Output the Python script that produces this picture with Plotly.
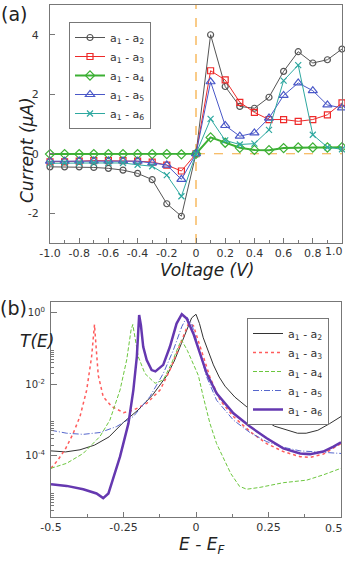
import plotly.graph_objects as go

# ---- panel (a): I-V curves ----
volt = [-1.0, -0.9, -0.8, -0.7, -0.6, -0.5, -0.4, -0.3, -0.2, -0.1, 0.0,
        0.1, 0.2, 0.3, 0.4, 0.5, 0.6, 0.7, 0.8, 0.9, 1.0]
cur_a2 = [-0.44, -0.44, -0.44, -0.46, -0.49, -0.55, -0.66, -0.87, -1.68, -2.10, 0.0,
          4.00, 2.26, 1.59, 1.53, 1.90, 2.77, 3.43, 3.05, 3.16, 3.52]
cur_a3 = [-0.27, -0.27, -0.25, -0.23, -0.23, -0.23, -0.25, -0.28, -0.38, -0.58, 0.0,
          2.79, 2.48, 1.73, 1.39, 1.15, 1.15, 1.09, 1.15, 1.31, 1.71]
cur_a4 = [-0.01, -0.01, -0.01, -0.01, -0.01, -0.01, -0.01, -0.01, -0.01, -0.02, 0.0,
          0.55, 0.37, 0.20, 0.13, 0.12, 0.19, 0.21, 0.21, 0.21, 0.22]
cur_a5 = [-0.25, -0.25, -0.24, -0.24, -0.24, -0.24, -0.25, -0.31, -0.38, -0.86, 0.0,
          2.42, 0.95, 0.59, 0.70, 1.20, 1.96, 2.38, 2.12, 1.64, 1.54]
cur_a6 = [-0.32, -0.31, -0.31, -0.31, -0.31, -0.31, -0.37, -0.42, -0.72, -1.43, 0.0,
          1.17, 0.45, 0.31, 0.34, 0.80, 2.46, 2.98, 0.64, 0.22, 0.15]

# last label is drawn separately so it is not cut at the page edge
volt_ticks = [-1.0, -0.8, -0.6, -0.4, -0.2, 0, 0.2, 0.4, 0.6, 0.8, 1.0]
volt_ticktext = ["-1.0", "-0.8", "-0.6", "-0.4", "-0.2", "0", "0.2", "0.4", "0.6", "0.8", ""]
volt_lastlabel = "1.0"
cur_ticks = [-2, 0, 2, 4]
cur_ticktext = ["-2", "0", "2", "4"]

# ---- panel (b): transmission ----
e_a2 = [-0.5, -0.45, -0.4, -0.35, -0.3, -0.25, -0.2, -0.15, -0.1, -0.075, -0.05, -0.03,
        -0.015, 0.0, 0.012, 0.025, 0.04, 0.06, 0.08, 0.1, 0.134, 0.2, 0.27, 0.35, 0.38,
        0.42, 0.46, 0.5]
t_a2 = [1.38e-4, 1.29e-4, 1.48e-4, 2.0e-4, 3.39e-4, 8.7e-4, 1.91e-3, 5.0e-3, 1.78e-2,
        4.47e-2, 0.141, 0.38, 0.72, 0.91, 0.50, 0.20, 8.9e-2, 3.5e-2, 1.6e-2, 8.9e-3,
        4.4e-3, 1.6e-3, 6.8e-4, 4.3e-4, 4.3e-4, 5.2e-4, 7.9e-4, 1.26e-3]

e_a3 = [-0.5, -0.475, -0.45, -0.425, -0.4, -0.377, -0.36, -0.354, -0.35, -0.345, -0.337,
        -0.32, -0.291, -0.25, -0.216, -0.17, -0.124, -0.09, -0.055, -0.026, -0.009, 0.014,
        0.048, 0.083, 0.129, 0.186, 0.244, 0.301, 0.359, 0.393, 0.439, 0.5]
t_a3 = [4.5e-5, 7.9e-5, 1.58e-4, 4.0e-4, 1.26e-3, 6.9e-3, 5.9e-2, 0.25, 0.47, 0.126,
        1.78e-2, 4.5e-3, 2.4e-3, 1.62e-3, 1.9e-3, 2.95e-3, 6.9e-3, 2.5e-2, 0.138, 0.50,
        0.44, 0.112, 1.6e-2, 3.6e-3, 1.26e-3, 4.8e-4, 2.2e-4, 1.32e-4, 9.5e-5, 9.1e-5,
        1.12e-4, 2.2e-4]

e_a4 = [-0.5, -0.446, -0.389, -0.331, -0.297, -0.262, -0.239, -0.224, -0.218, -0.213,
        -0.199, -0.176, -0.141, -0.113, -0.084, -0.061, -0.05, -0.03, -0.009, 0.008, 0.025,
        0.048, 0.071, 0.094, 0.12, 0.15, 0.175, 0.221, 0.301, 0.382, 0.439, 0.5]
t_a4 = [4.5e-5, 6.2e-5, 1.17e-4, 3.5e-4, 1.0e-3, 6.9e-3, 4.8e-2, 0.33, 0.47, 0.26,
        5.9e-2, 2.0e-2, 1.07e-2, 1.32e-2, 3.9e-2, 0.112, 0.174, 8.9e-2, 3.5e-2, 1.78e-2,
        4.5e-3, 8.1e-4, 2.2e-4, 8.9e-5, 3.2e-5, 1.41e-5, 1.17e-5, 1.32e-5, 1.78e-5, 2.1e-5,
        2.95e-5, 4.5e-5]

e_a5 = [-0.5, -0.446, -0.389, -0.331, -0.274, -0.216, -0.159, -0.113, -0.078, -0.049,
        -0.032, -0.015, 0.008, 0.037, 0.071, 0.129, 0.186, 0.244, 0.301, 0.359, 0.416, 0.5]
t_a5 = [5.2e-4, 4.3e-4, 4.0e-4, 4.5e-4, 6.6e-4, 1.26e-3, 4.5e-3, 2.0e-2, 9.1e-2, 0.41,
        0.76, 0.50, 0.112, 1.6e-2, 3.6e-3, 1.0e-3, 4.5e-4, 2.5e-4, 1.74e-4, 1.38e-4,
        1.29e-4, 1.17e-4]

e_a6 = [-0.5, -0.446, -0.389, -0.343, -0.32, -0.302, -0.291, -0.262, -0.233, -0.216,
        -0.204, -0.199, -0.196, -0.19, -0.182, -0.17, -0.153, -0.14, -0.113, -0.09, -0.067,
        -0.049, -0.032, -0.009, 0.014, 0.037, 0.071, 0.129, 0.186, 0.244, 0.301, 0.359,
        0.393, 0.439, 0.474, 0.5]
t_a6 = [1.62e-5, 1.45e-5, 1.17e-5, 8.9e-6, 6.6e-6, 8.9e-6, 1.7e-5, 9.5e-5, 8.1e-4,
        6.9e-3, 5.9e-2, 0.32, 0.87, 0.45, 0.112, 4.8e-2, 2.5e-2, 2.3e-2, 3.5e-2, 0.112,
        0.50, 0.91, 0.69, 0.26, 7.4e-2, 2.0e-2, 5.6e-3, 1.55e-3, 6.6e-4, 3.1e-4, 1.62e-4,
        1.17e-4, 1.12e-4, 1.32e-4, 1.82e-4, 2.4e-4]

e_ticks = [-0.5, -0.25, 0, 0.25, 0.5]
e_ticktext = ["-0.5", "-0.25", "0", "0.25", ""]
e_lastlabel = "0.5"
t_ticks = [1, 1e-2, 1e-4]
t_ticktext = ["10<sup>0</sup>", "10<sup>-2</sup>", "10<sup>-4</sup>"]
t_minor = [k * 10.0 ** p for p in (-2, -4, -6) for k in range(2, 10)]

names = ["a<sub>1</sub> - a<sub>2</sub>", "a<sub>1</sub> - a<sub>3</sub>",
         "a<sub>1</sub> - a<sub>4</sub>", "a<sub>1</sub> - a<sub>5</sub>",
         "a<sub>1</sub> - a<sub>6</sub>"]

W, H = 345, 563
def px(x):
    return x / W
def py(y):
    return 1 - y / H

fig = go.Figure()

iv_style = [
    (cur_a2, "#555555", "circle-open", 6, 1),
    (cur_a3, "#ee2a2a", "square-open", 6, 1),
    (cur_a4, "#3cb034", "diamond-open", 7, 2),
    (cur_a5, "#4a58c8", "triangle-up-open", 8, 1),
    (cur_a6, "#2ea8a0", "x-thin-open", 6, 1),
]
for (ys, col, sym, sz, lw), nm in zip(iv_style, names):
    fig.add_trace(go.Scatter(x=volt, y=ys, name=nm, mode="lines+markers",
                             line=dict(color=col, width=lw),
                             marker=dict(symbol=sym, size=sz, color=col,
                                         line=dict(color=col, width=1.2)),
                             cliponaxis=False, xaxis="x", yaxis="y", legend="legend"))

te_style = [
    (e_a2, t_a2, "#333333", "solid", 1),
    (e_a3, t_a3, "#ff5c5c", "dot", 1.5),
    (e_a4, t_a4, "#6cc63e", "4px,2px", 1),
    (e_a5, t_a5, "#5566cc", "6px,2px,1px,2px", 1),
    (e_a6, t_a6, "#6538b0", "solid", 2.5),
]
for (xs, ys, col, dash, lw), nm in zip(te_style, names):
    fig.add_trace(go.Scatter(x=xs, y=ys, name=nm, mode="lines",
                             line=dict(color=col, width=lw, dash=dash),
                             xaxis="x2", yaxis="y2", legend="legend2"))

axis_common = dict(showline=True, mirror=True, linecolor="#777777", linewidth=1,
                   showgrid=False, zeroline=False, ticks="inside", tickcolor="#777777",
                   tickfont=dict(size=11, color="#333333"), automargin=False)

fig.update_layout(
    width=W, height=H, autosize=False, margin=dict(l=0, r=0, t=0, b=0, autoexpand=False),
    paper_bgcolor="white", plot_bgcolor="white",
    font=dict(family="DejaVu Sans", color="#222222"),
    xaxis=dict(axis_common, domain=[px(50), px(342)], range=[-1, 1], anchor="y",
               tickmode="array", tickvals=volt_ticks, ticktext=volt_ticktext, ticklen=5,
               minor=dict(ticks="inside", dtick=0.1, tick0=0, ticklen=3, tickcolor="#777777")),
    yaxis=dict(axis_common, domain=[py(243), py(5)], range=[-3, 5], anchor="x",
               tickmode="array", tickvals=cur_ticks, ticktext=cur_ticktext, ticklen=5,
               ticklabelstandoff=8),
    xaxis2=dict(axis_common, domain=[px(51), px(341)], range=[-0.5, 0.5], anchor="y2",
                tickmode="array", tickvals=e_ticks, ticktext=e_ticktext, ticklen=5,
                minor=dict(ticks="inside", dtick=0.125, tick0=0, ticklen=3, tickcolor="#777777")),
    yaxis2=dict(axis_common, domain=[py(516.7), py(301.7)], type="log", range=[-5.7, 0.31],
                anchor="x2", tickmode="array", tickvals=t_ticks, ticktext=t_ticktext,
                ticklen=6, tickfont=dict(size=10, color="#333333"), ticklabelstandoff=3,
                minor=dict(ticks="inside", tickmode="array", tickvals=t_minor, ticklen=3,
                           tickcolor="#777777")),
    legend=dict(x=px(69), y=py(22), xanchor="left", yanchor="top",
                bordercolor="#777777", borderwidth=1, bgcolor="white",
                font=dict(size=11, color="#333333"), itemwidth=30, tracegroupgap=0),
    legend2=dict(x=px(329), y=py(318), xanchor="right", yanchor="top",
                 bordercolor="#777777", borderwidth=1, bgcolor="white",
                 font=dict(size=11, color="#333333"), itemwidth=30, tracegroupgap=0),
    showlegend=True,
)

# orange dashed zero lines in panel (a)
fig.add_shape(type="line", xref="x", yref="y domain", x0=0, x1=0, y0=0, y1=1,
              line=dict(color="#f5a93a", width=1.2, dash="dash"), layer="below")
fig.add_shape(type="line", xref="x", yref="y", x0=0, x1=1, y0=0, y1=0,
              line=dict(color="#f5a93a", width=1.2, dash="dash"), layer="below")

# end-of-axis tick labels, kept inside the page
fig.add_annotation(text=volt_lastlabel, x=1, y=py(252), xref="paper", yref="paper",
                   showarrow=False, xanchor="right", yanchor="middle",
                   font=dict(size=11, color="#333333"))
fig.add_annotation(text=e_lastlabel, x=1, y=py(528), xref="paper", yref="paper",
                   showarrow=False, xanchor="right", yanchor="middle",
                   font=dict(size=11, color="#333333"))

labels = [
    ("(a)", 14, 14, 19, 0),
    ("(b)", 14, 308, 19, 0),
    ("<i>Current (μA)</i>", 27, 150, 17, -90),
    ("<i>Voltage (V)</i>", 207, 270, 17, 0),
    ("<i>T(E)</i>", 37, 341, 17, 0),
    ("<i>E - E<sub>F</sub></i>", 201, 545, 17, 0),
]
for txt, x, y, sz, ang in labels:
    fig.add_annotation(text=txt, x=px(x), y=py(y), xref="paper", yref="paper",
                       showarrow=False, textangle=ang, font=dict(size=sz, color="#222222"),
                       xanchor="center", yanchor="middle")

fig.write_html("out.html", config={"displayModeBar": False},
               post_script="document.body.style.margin='0';")
